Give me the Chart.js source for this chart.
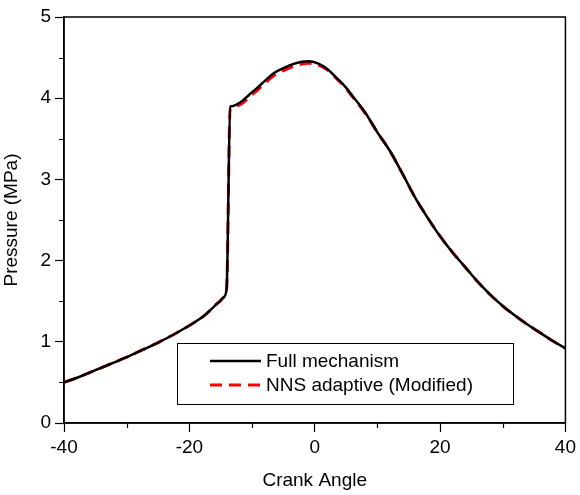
<!DOCTYPE html>
<html>
<head>
<meta charset="utf-8">
<script src="https://cdn.jsdelivr.net/npm/chart.js@4.4.1/dist/chart.umd.min.js"></script>
<style>
  html, body { margin: 0; padding: 0; background: #fff; }
  #wrap { width: 580px; height: 495px; position: relative; }
</style>
</head>
<body>
<div id="wrap"><canvas id="chart"></canvas></div>
<script>
// Crank angle vs pressure
const fullAngle = [-40, -37.5, -35, -32.5, -30, -27.5, -25, -22.5, -20, -17.5, -16, -15, -14.5, -14.05, -13.49,
  -13, -12.5, -11.5, -10.5, -9, -8, -6.5, -5, -3.5, -2, -1, 0.5, 2, 3.5, 5, 6, 8, 10, 12, 14, 16, 18, 20, 22, 24, 26, 28, 30, 32, 34, 36, 38, 40];
const fullPressure = [0.50, 0.57, 0.65, 0.73, 0.81, 0.90, 0.99, 1.09, 1.20, 1.33, 1.44, 1.51, 1.55, 1.66, 3.90,
  3.905, 3.92, 3.97, 4.04, 4.14, 4.21, 4.31, 4.37, 4.42, 4.45, 4.455, 4.43, 4.36, 4.25, 4.13, 4.03, 3.83, 3.58, 3.35, 3.07, 2.78, 2.53, 2.30, 2.10, 1.92, 1.74, 1.58, 1.44, 1.32, 1.21, 1.11, 1.01, 0.92];

const nnsAngle = [-40, -37.5, -35, -32.5, -30, -27.5, -25, -22.5, -20, -17.5, -16, -15, -14.5, -14.05, -13.49,
  -13, -12.5, -11.5, -10.5, -9, -8, -6.5, -5, -3.5, -2, -1, 0.5, 2, 3.5, 5, 6, 8, 10, 12, 14, 16, 18, 20, 22, 24, 26, 28, 30, 32, 34, 36, 38, 40];
const nnsPressure = [0.50, 0.57, 0.65, 0.73, 0.81, 0.90, 0.99, 1.09, 1.20, 1.33, 1.44, 1.51, 1.55, 1.66, 3.88,
  3.885, 3.90, 3.94, 4.01, 4.11, 4.18, 4.28, 4.34, 4.39, 4.42, 4.43, 4.41, 4.35, 4.24, 4.12, 4.02, 3.82, 3.58, 3.35, 3.07, 2.78, 2.53, 2.30, 2.10, 1.92, 1.74, 1.58, 1.44, 1.32, 1.21, 1.11, 1.01, 0.92];

const seriesLabels = ["Full mechanism", "NNS adaptive (Modified)"];
const xTitle = "Crank Angle";
const yTitle = "Pressure (MPa)";

const FONT = "Arial, 'Liberation Sans', sans-serif";
const FONT_SIZE = 19;

const toPoints = (xs, ys) => xs.map((x, i) => ({ x, y: ys[i] }));

// frame, minor ticks and the boxed legend inside the plot
const decorPlugin = {
  id: "decor",
  afterDraw(chart) {
    const { ctx, chartArea: a, scales } = chart;
    ctx.save();
    ctx.strokeStyle = "#000";
    ctx.lineWidth = 1.5;
    ctx.strokeRect(a.left, a.top, a.right - a.left, a.bottom - a.top);

    // minor ticks
    ctx.lineWidth = 1.2;
    ctx.beginPath();
    for (let v = -30; v <= 30; v += 20) {
      const px = Math.round(scales.x.getPixelForValue(v)) + 0.5;
      ctx.moveTo(px, a.bottom);
      ctx.lineTo(px, a.bottom + 5);
    }
    for (let v = 0.5; v < 5; v += 1) {
      const py = Math.round(scales.y.getPixelForValue(v)) + 0.5;
      ctx.moveTo(a.left, py);
      ctx.lineTo(a.left - 5, py);
    }
    ctx.stroke();

    // legend box
    const bx = 177, by = 343, bw = 336, bh = 61;
    ctx.fillStyle = "#fff";
    ctx.fillRect(bx, by, bw, bh);
    ctx.lineWidth = 1;
    ctx.strokeRect(bx + 0.5, by + 0.5, bw, bh);

    const ds = chart.data.datasets;
    const rows = [361, 385];
    ctx.font = FONT_SIZE + "px " + FONT;
    ctx.textBaseline = "middle";
    ds.forEach((d, i) => {
      ctx.beginPath();
      ctx.strokeStyle = d.borderColor;
      ctx.lineWidth = d.borderWidth;
      ctx.setLineDash(d.borderDash || []);
      ctx.moveTo(210, rows[i]);
      ctx.lineTo(261, rows[i]);
      ctx.stroke();
      ctx.setLineDash([]);
      ctx.fillStyle = "#000";
      ctx.fillText(d.label, 266, rows[i] + 1);
    });
    ctx.restore();
  }
};

new Chart(document.getElementById("chart"), {
  type: "line",
  data: {
    datasets: [
      {
        label: seriesLabels[0],
        data: toPoints(fullAngle, fullPressure),
        borderColor: "#000000",
        borderWidth: 2.5,
        pointRadius: 0,
        cubicInterpolationMode: "monotone",
        fill: false
      },
      {
        label: seriesLabels[1],
        data: toPoints(nnsAngle, nnsPressure),
        borderColor: "#ff0000",
        borderWidth: 3,
        borderDash: [12, 7],
        pointRadius: 0,
        cubicInterpolationMode: "monotone",
        fill: false
      }
    ]
  },
  options: {
    responsive: true,
    maintainAspectRatio: false,
    animation: false,
    layout: { padding: { top: 17, right: 0, left: 0, bottom: 0 } },
    plugins: { legend: { display: false }, tooltip: { enabled: false } },
    scales: {
      x: {
        type: "linear",
        min: -40,
        max: 40,
        afterFit: (s) => { s.height = 72; },
        ticks: { stepSize: 20, color: "#000", padding: 4, font: { family: FONT, size: FONT_SIZE } },
        grid: { drawOnChartArea: false, tickLength: 9, tickColor: "#000", tickWidth: 1.2 },
        border: { color: "#000", width: 1.5 },
        title: { display: true, text: xTitle, color: "#000", font: { family: FONT, size: FONT_SIZE }, padding: { top: 0, bottom: 3 } }
      },
      y: {
        type: "linear",
        min: 0,
        max: 5,
        afterFit: (s) => { s.width = 64; },
        ticks: { stepSize: 1, color: "#000", padding: 4, font: { family: FONT, size: FONT_SIZE } },
        grid: { drawOnChartArea: false, tickLength: 9, tickColor: "#000", tickWidth: 1.2 },
        border: { color: "#000", width: 1.5 },
        title: { display: true, text: yTitle, color: "#000", font: { family: FONT, size: FONT_SIZE }, padding: { top: 0, bottom: 6 } }
      }
    }
  },
  plugins: [decorPlugin]
});
</script>
</body>
</html>
